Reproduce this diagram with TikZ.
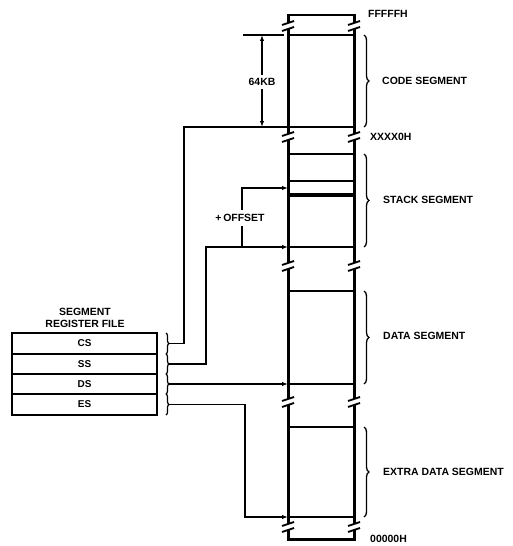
\documentclass[tikz,border=0pt]{standalone}
\usepackage{fontspec}
\setmainfont{Liberation Sans}
\usetikzlibrary{arrows.meta,decorations.pathreplacing}
\begin{document}
\begin{tikzpicture}[x=1bp,y=-1bp,
  col/.style={line width=3pt},
  seg/.style={line width=2.6pt},
  conn/.style={line width=1.9pt},
  brk/.style={line width=1.8pt},
  arr/.style={-{Latex[length=6pt,width=4.5pt]}},
  lbl/.style={font=\fontsize{10.5}{12}\selectfont\bfseries, inner sep=0pt},
  segbrace/.style={decorate, decoration={brace, amplitude=5pt}, line width=1.3pt},
  regbrace/.style={decorate, decoration={brace, amplitude=3pt}, line width=1.2pt},
  reg/.style={draw, line width=2.4pt, minimum width=145bp, inner sep=0pt,
    font=\fontsize{10}{12}\selectfont\bfseries}
]
\useasboundingbox (0,0) rectangle (513,546);

% ---- memory column ----
\foreach \x in {288,354} {
  \draw[col] (\x,29) -- (\x,134);
  \draw[col] (\x,140) -- (\x,263);
  \draw[col] (\x,269) -- (\x,399);
  \draw[col] (\x,405) -- (\x,524);
  \foreach \b in {26,137,266,402,527} {
    \draw[brk] (\x-6,\b-1) -- (\x+6,\b-5);
    \draw[brk] (\x-6,\b+5) -- (\x+6,\b+1);
  }
}
\draw[col] (288,23) -- (288,15) -- (354,15) -- (354,23);
\draw[col] (288,530) -- (288,539) -- (354,539) -- (354,530);

\foreach \y in {35,127,154,181,247,291,384,427,517} {
  \draw[seg] (288,\y) -- (354,\y);
}
\draw[line width=3.2pt] (288,195) -- (354,195);

% ---- segment braces and labels ----
\draw[segbrace] (364,35) -- (364,127);
\draw[segbrace] (364,154) -- (364,247);
\draw[segbrace] (364,291) -- (364,384);
\draw[segbrace] (364,427) -- (364,517);

\node[lbl, anchor=west] (ffff) at (368,14) {FFFFFH};
\node[lbl, anchor=west] (xxxx) at (370,137) {XXXX0H};
\node[lbl, anchor=west] (zero) at (370,539) {00000H};
\node[lbl, anchor=west] (code) at (382,81) {CODE SEGMENT};
\node[lbl, anchor=west] (stack) at (383,200) {STACK SEGMENT};
\node[lbl, anchor=west] (data) at (383,336) {DATA SEGMENT};
\node[lbl, anchor=west] (extra) at (383,472) {EXTRA DATA SEGMENT};

% ---- 64KB dimension ----
\coordinate (kbTop) at (262,35);
\coordinate (kbBot) at (262,127);
\coordinate (kbL) at (243,35);
\coordinate (kbR) at (284,35);
\draw[conn] (kbL) -- (kbR);
\draw[conn, {Latex[length=6pt,width=4.5pt]}-{Latex[length=6pt,width=4.5pt]}] (kbTop) -- (kbBot);
\node[lbl, fill=white, inner ysep=3pt, inner xsep=1pt] (kb) at (262,82) {64KB};

% ---- segment register file ----
\node[lbl, align=center] (title) at (85,318) {SEGMENT\\REGISTER FILE};
\node[reg, minimum height=21bp] (cs) at (84.5,343.5) {CS};
\node[reg, minimum height=20bp] (ss) at (84.5,364) {SS};
\node[reg, minimum height=20bp] (ds) at (84.5,384) {DS};
\node[reg, minimum height=21bp] (es) at (84.5,404.5) {ES};
\draw[line width=3pt] (12,333) rectangle (157,415);

\draw[regbrace] (166,333) -- (166,354);
\draw[regbrace] (166,354) -- (166,374);
\draw[regbrace] (166,374) -- (166,394);
\draw[regbrace] (166,394) -- (166,415);

\coordinate (csT) at (169,343.5);
\coordinate (ssT) at (169,364);
\coordinate (dsT) at (169,384);
\coordinate (esT) at (169,404.5);
\coordinate (codeBase) at (288,127);
\coordinate (stackOff) at (288,188);
\coordinate (stackBase) at (288,247);
\coordinate (dataBase) at (288,384);
\coordinate (extraBase) at (288,517);
\coordinate (offStart) at (242,247);

% ---- connectors ----
\draw[conn] (csT) -- (184,343.5) |- (codeBase);
\draw[conn, arr] (ssT) -- (206,364) |- (stackBase);
\draw[conn, arr] (offStart) |- (stackOff);
\node[lbl, fill=white, inner ysep=4pt, inner xsep=1pt] (offset) at (240,218) {+\,OFFSET};
\draw[conn, arr] (dsT) -- (dataBase);
\draw[conn, arr] (esT) -- (245,404.5) |- (extraBase);
\end{tikzpicture}
\end{document}
